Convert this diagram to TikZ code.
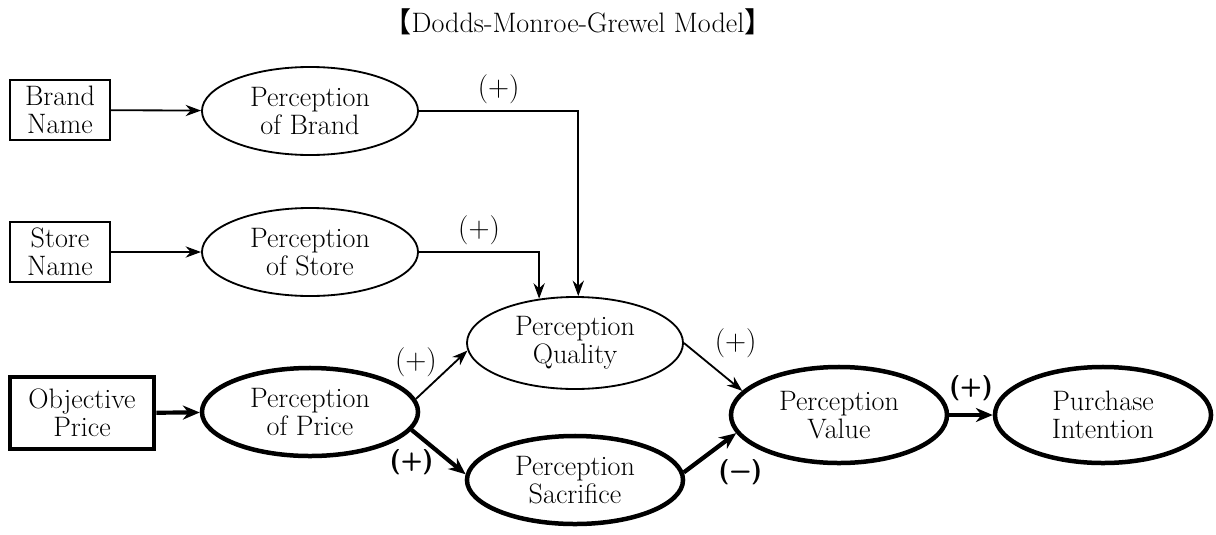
\documentclass[tikz,border=0pt]{standalone}
\usepackage{fontspec}
\newfontfamily\cjkfont{Noto Sans CJK JP}
\usetikzlibrary{arrows.meta, positioning, shapes.geometric}

\begin{document}
\begin{tikzpicture}[
  x=0.025cm, y=-0.025cm,
  every node/.style={font=\fontsize{20}{20}\selectfont},
  cue/.style={rectangle, draw, line width=1.3pt, minimum width=2.5cm, minimum height=1.5cm, align=center, inner sep=0pt},
  percept/.style={ellipse, draw, line width=1.3pt, minimum width=5.4cm, minimum height=2.2cm, align=center, inner sep=0pt},
  heavy/.style={line width=3.2pt},
  link/.style={-{Stealth[length=11pt,width=8pt]}, line width=1.3pt},
  mainlink/.style={-{Stealth[length=12pt,width=10pt]}, line width=3pt},
  boldsign/.style={font=\fontsize{18}{20}\selectfont\sffamily\bfseries},
]
\useasboundingbox (0,0) rectangle (1216,534);

\node (title) at (578,22) {{\cjkfont 【}Dodds-Monroe-Grewel Model{\cjkfont 】}};

\node[cue] (brand) at (60,110) {Brand\\Name};
\node[percept] (pbrand) at (310,111) {Perception\\of Brand};
\node[cue] (store) at (60,252) {Store\\Name};
\node[percept] (pstore) at (310,252) {Perception\\of Store};
\node[cue, heavy, minimum width=3.6cm, minimum height=1.8cm] (objprice) at (82,413) {Objective\\Price};
\node[percept, heavy] (pprice) at (310,412) {Perception\\of Price};
\node[percept, minimum height=2.3cm] (quality) at (575,343) {Perception\\Quality};
\node[percept, heavy] (sacrifice) at (575,480) {Perception\\Sacrifice};
\node[percept, heavy, minimum height=2.4cm] (value) at (839,415) {Perception\\Value};
\node[percept, heavy, minimum height=2.4cm] (intention) at (1103,415) {Purchase\\Intention};

\draw[link] (brand) -- (pbrand);
\draw[link] (store) -- (pstore);
\draw[mainlink] (objprice) -- (pprice);
\draw[link] (pbrand.east) -| node[pos=0.25, above=1pt] (sbrand) {$(+)$} (quality.86);
\draw[link] (pstore.east) -| node[pos=0.25, above=1pt] (sstore) {$(+)$} (quality.129);
\draw[link] (pprice.7) -- node[pos=0, above=12pt] (sprq) {$(+)$} (quality.184);
\draw[mainlink] (pprice.-10) -- node[pos=0, below=9pt, boldsign] (sprs) {(+)} (sacrifice.177);
\draw[link] (quality.0) -- node[pos=0, right=18pt] (sqv) {$(+)$} (value.166);
\draw[mainlink] (sacrifice.4) -- node[pos=0, right=20pt, boldsign] (ssv) {(\textminus)} (value.190);
\draw[mainlink] (value) -- node[midway, above=5pt, boldsign] (svi) {(+)} (intention);

\end{tikzpicture}
\end{document}
